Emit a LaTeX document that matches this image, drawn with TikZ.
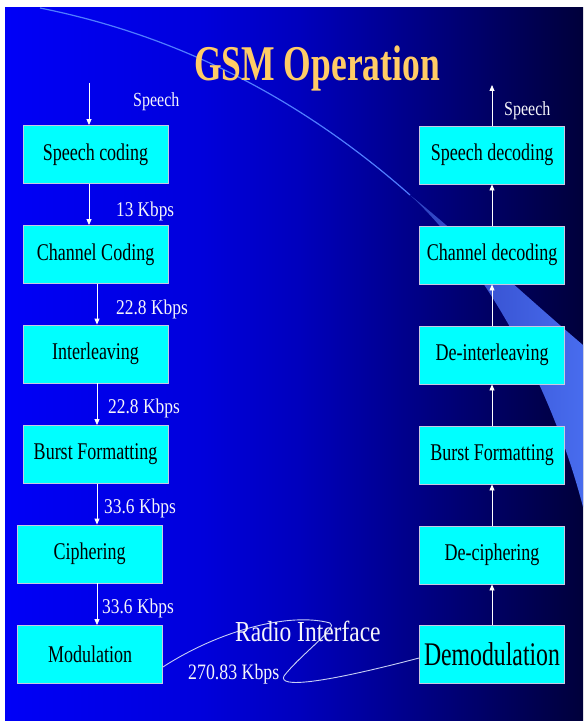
\documentclass[tikz,border=0pt]{standalone}
\usepackage{fontspec}
\usepackage{graphicx}
\setmainfont{Liberation Serif}
\usetikzlibrary{arrows.meta}
\pgfdeclarehorizontalshading{bgshade}{100bp}{rgb(0bp)=(0,0,0.97); rgb(25bp)=(0,0,0.97); rgb(42bp)=(0,0,0.86); rgb(50.5bp)=(0,0,0.74); rgb(59bp)=(0,0,0.56); rgb(68bp)=(0,0,0.37); rgb(75bp)=(0,0,0.23); rgb(100bp)=(0,0,0.23)}
\definecolor{boxcyan}{RGB}{0,255,255}
\definecolor{boxline}{RGB}{200,200,225}
\definecolor{titlecol}{RGB}{255,204,102}
\definecolor{swline}{RGB}{80,125,255}
\definecolor{bandl}{RGB}{45,65,190}
\definecolor{bandr}{RGB}{72,108,238}
\definecolor{radiocol}{RGB}{200,208,245}
\definecolor{labelcol}{RGB}{245,245,250}
\newcommand{\sx}[2]{\scalebox{#1}[1]{#2}}
\newcommand{\fs}[1]{\fontsize{#1}{#1}\selectfont}
\begin{document}
\begin{tikzpicture}[x=1pt,y=-1pt,
  blk/.style={draw=boxline, line width=0.8pt, fill=boxcyan, minimum width=145pt, minimum height=58pt, inner sep=0pt, text=black, font=\fs{24}},
  arr/.style={draw=white, line width=0.8pt, -{Triangle[width=5pt,length=6pt]}},
  lbl/.style={text=labelcol, inner sep=0pt, anchor=base west, font=\fs{21}}]
% background
\useasboundingbox (0,0) rectangle (583,722);
\fill[white] (0,0) rectangle (583,722);
\shade[shading=bgshade] (5,8) rectangle (583,720);
% swoosh
\shade[left color=bandl, right color=bandr] (410,195) .. controls (480,260) and (550,380) .. (583,507) -- (583,345) .. controls (530,300) and (460,235) .. (410,195) -- cycle;
\draw[swline, line width=1.2pt] (40,8) .. controls (150,30) and (280,80) .. (410,195);
% title
\node[anchor=base, text=titlecol, font=\fs{50}\bfseries, inner sep=0pt] (title) at (317,81) {\sx{0.71}{GSM Operation}};
% left column
\node[blk] (sc) at (95.5,154.5) {\sx{0.75}{Speech coding}};
\node[blk] (cc) at (95.5,254.5) {\sx{0.75}{Channel Coding}};
\node[blk] (il) at (95.5,354) {\sx{0.75}{Interleaving}};
\node[blk] (bf) at (95.5,454.5) {\sx{0.75}{Burst Formatting}};
\node[blk] (ci) at (89.5,554) {\sx{0.75}{Ciphering}};
\node[blk] (mo) at (90,654.5) {\sx{0.75}{Modulation}};
% right column
\node[blk] (sd) at (492,155) {\sx{0.75}{Speech decoding}};
\node[blk] (cd) at (492,255) {\sx{0.75}{Channel decoding}};
\node[blk] (di) at (492,355) {\sx{0.75}{De-interleaving}};
\node[blk] (bg) at (492,455) {\sx{0.75}{Burst Formatting}};
\node[blk] (dc) at (492,555) {\sx{0.75}{De-ciphering}};
\node[blk, font=\fs{33}] (dm) at (492,654.5) {\sx{0.72}{Demodulation}};
% left arrows
\coordinate (in) at (89,83);
\coordinate (ax) at (97,0);
\draw[arr] (in) -- (in |- sc.north);
\draw[arr] (sc.south -| in) -- (cc.north -| in);
\draw[arr] (cc.south -| ax) -- (il.north -| ax);
\draw[arr] (il.south -| ax) -- (bf.north -| ax);
\draw[arr] (bf.south -| ax) -- (ci.north -| ax);
\draw[arr] (ci.south -| ax) -- (mo.north -| ax);
% right arrows
\coordinate (out) at (492,85);
\draw[arr] (dm.north) -- (dc.south);
\draw[arr] (dc.north) -- (bg.south);
\draw[arr] (bg.north) -- (di.south);
\draw[arr] (di.north) -- (cd.south);
\draw[arr] (cd.north) -- (sd.south);
\draw[arr] (sd.north) -- (out);
% radio interface
\draw[radiocol, line width=0.9pt] ([yshift=-12.5pt]mo.east) .. controls (220,630) and (290,612) .. (330,623) .. controls (340,626) and (300,655) .. (284,676) .. controls (278,688) and (320,684) .. ([yshift=-3.5pt]dm.west);
% labels
\node[lbl, font=\fs{20}] (spl) at (133,107) {\sx{0.8}{Speech}};
\node[lbl, font=\fs{20}] (spr) at (504,116) {\sx{0.8}{Speech}};
\node[lbl] (r1) at (116,216) {\sx{0.82}{13 Kbps}};
\node[lbl] (r2) at (116,314) {\sx{0.83}{22.8 Kbps}};
\node[lbl] (r3) at (108,413) {\sx{0.83}{22.8 Kbps}};
\node[lbl] (r4) at (104,513) {\sx{0.83}{33.6 Kbps}};
\node[lbl] (r5) at (102,613) {\sx{0.83}{33.6 Kbps}};
\node[lbl, font=\fs{29}] (ri) at (235,641) {\sx{0.81}{Radio Interface}};
\node[lbl, font=\fs{22}] (rate) at (188,679) {\sx{0.81}{270.83 Kbps}};
\end{tikzpicture}
\end{document}
